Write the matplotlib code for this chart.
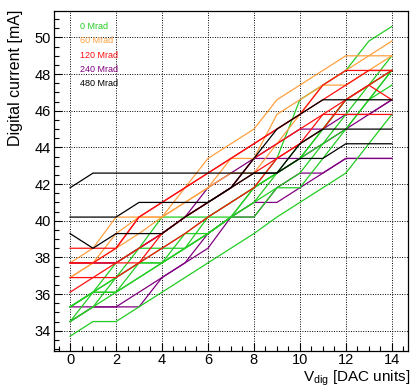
import numpy as np
import matplotlib
matplotlib.use('Agg')
import matplotlib.pyplot as plt
from matplotlib.ticker import MultipleLocator

plt.rcParams['font.family'] = ['Liberation Sans', 'DejaVu Sans']
plt.rcParams['mathtext.fontset'] = 'custom'
plt.rcParams['mathtext.rm'] = 'Liberation Sans'

vdig = list(range(15))

# 0 Mrad
green = [
    [33.7, 34.5, 34.5, 35.3, 36.1, 36.9, 37.7, 38.5, 39.3, 40.2, 41.0, 41.8, 42.6, 44.2, 45.8],
    [35.3, 36.1, 36.1, 36.9, 37.7, 38.5, 39.3, 40.2, 41.0, 41.8, 42.6, 44.2, 45.8, 47.4, 48.2],
    [34.5, 35.3, 36.1, 36.9, 37.7, 38.5, 39.3, 40.2, 40.2, 41.8, 41.8, 43.4, 45.0, 46.6, 48.2],
    [34.5, 36.1, 36.1, 37.7, 37.7, 38.5, 40.2, 40.2, 41.0, 42.6, 43.4, 45.0, 46.6, 47.4, 49.0],
    [35.3, 36.1, 36.9, 38.5, 38.5, 38.5, 39.3, 40.2, 41.8, 43.4, 46.6, 47.4, 48.2, 49.8, 50.6],
    [35.3, 36.1, 37.7, 38.5, 40.2, 40.2, 40.2, 41.0, 41.8, 42.6, 43.4, 45.0, 46.6, 47.4, 48.2],
    [34.5, 35.3, 36.9, 37.7, 38.5, 39.3, 40.2, 41.0, 41.8, 42.6, 44.2, 45.0, 46.6, 46.6, 47.4],
    [35.3, 36.1, 36.9, 37.7, 37.7, 39.3, 39.3, 40.2, 41.8, 42.6, 43.4, 44.2, 45.0, 46.6, 48.2],
]
# 60 Mrad
orange = [
    [37.7, 38.5, 40.2, 40.2, 40.2, 41.8, 43.4, 44.2, 45.0, 46.6, 47.4, 48.2, 49.0, 49.0, 49.0],
    [36.9, 37.7, 39.3, 40.2, 40.2, 41.0, 41.8, 42.6, 42.6, 44.2, 45.8, 47.4, 47.4, 48.2, 49.0],
    [36.9, 37.7, 38.5, 39.3, 40.2, 41.0, 41.8, 43.4, 43.4, 45.8, 46.6, 47.4, 48.2, 49.0, 49.8],
]
# 120 Mrad
red = [
    [38.5, 38.5, 38.5, 40.2, 41.0, 41.8, 42.6, 43.4, 44.2, 45.0, 45.8, 47.4, 48.2, 48.2, 48.2],
    [37.7, 37.7, 38.5, 40.2, 41.0, 41.8, 42.6, 43.4, 44.2, 45.0, 45.8, 46.6, 47.4, 48.2, 48.2],
    [36.9, 36.9, 36.9, 37.7, 38.5, 39.3, 40.2, 41.0, 41.8, 43.4, 44.2, 45.8, 45.8, 45.8, 45.8],
    [36.1, 36.9, 37.7, 38.5, 39.3, 40.2, 41.0, 41.8, 42.6, 43.4, 44.2, 45.0, 46.6, 47.4, 46.6],
    [37.7, 37.7, 37.7, 37.7, 39.3, 40.2, 41.0, 41.8, 43.4, 44.2, 45.0, 45.8, 46.6, 47.4, 48.2],
]
# 240 Mrad
purple = [
    [35.3, 35.3, 35.3, 35.3, 36.9, 37.7, 38.5, 40.2, 41.0, 41.0, 41.8, 42.6, 43.4, 43.4, 43.4],
    [34.5, 35.3, 35.3, 36.1, 36.9, 37.7, 39.3, 40.2, 40.2, 41.8, 42.6, 42.6, 43.4, 43.4, 43.4],
    [37.7, 37.7, 37.7, 38.5, 39.3, 40.2, 41.8, 42.6, 43.4, 44.2, 45.0, 45.0, 45.8, 45.8, 46.6],
    [37.7, 37.7, 37.7, 38.5, 39.3, 40.2, 41.0, 41.8, 43.4, 43.4, 43.4, 44.2, 45.0, 45.8, 46.6],
]
# 480 Mrad
black = [
    [41.8, 42.6, 42.6, 42.6, 42.6, 42.6, 42.6, 42.6, 42.6, 42.6, 44.2, 45.0, 45.0, 45.0, 45.0],
    [40.2, 40.2, 40.2, 41.0, 41.0, 41.0, 41.0, 41.8, 43.4, 45.0, 45.8, 46.6, 46.6, 46.6, 46.6],
    [39.3, 38.5, 39.3, 39.3, 39.3, 40.2, 41.0, 41.8, 42.6, 42.6, 43.4, 43.4, 44.2, 44.2, 44.2],
]

labels = ['0 Mrad', '60 Mrad', '120 Mrad', '240 Mrad', '480 Mrad']
colors = ['#22cc22', '#ffa040', '#ff1010', '#800080', '#000000']
groups = [green, orange, red, purple, black]
zorders = [3.2, 3.3, 3.4, 3.1, 3.5]

fig = plt.figure(figsize=(4.12, 3.89), dpi=100)
ax = fig.add_axes([0.131, 0.098, 0.859, 0.874])

for grp, col, zo in zip(groups, colors, zorders):
    for y in grp:
        ax.plot(vdig, y, color=col, lw=0.9, zorder=zo)

ax.set_xlim(-0.7, 14.7)
ax.set_ylim(32.9, 51.45)
ax.xaxis.set_major_locator(MultipleLocator(2))
ax.xaxis.set_minor_locator(MultipleLocator(0.5))
ax.yaxis.set_major_locator(MultipleLocator(2))
ax.yaxis.set_minor_locator(MultipleLocator(0.5))
ax.tick_params(which='both', direction='in', top=False, right=False, labelsize=10.5)
ax.tick_params(which='major', length=6, width=0.8)
ax.tick_params(which='minor', length=3.5, width=0.8)
ax.tick_params(axis='x', pad=1.5)
ax.tick_params(axis='y', pad=2)
ax.grid(True, which='major', color='black', linestyle=(0, (1, 1.5)), lw=0.7, zorder=1)
for s in ax.spines.values():
    s.set_linewidth(0.9)

for i, (lab, col) in enumerate(zip(labels, colors)):
    ax.text(0.42, 50.58 - 0.77 * i, lab, color=col, fontsize=6.5, va='center', ha='left', zorder=4)

fig.text(0.038, 0.974, 'Digital current [mA]', rotation=90, ha='center', va='top', fontsize=11.5)
fig.text(0.995, 0.02, r'V$_{\mathregular{dig}}$ [DAC units]', ha='right', va='baseline', fontsize=11)

fig.savefig('out.png', dpi=100)
